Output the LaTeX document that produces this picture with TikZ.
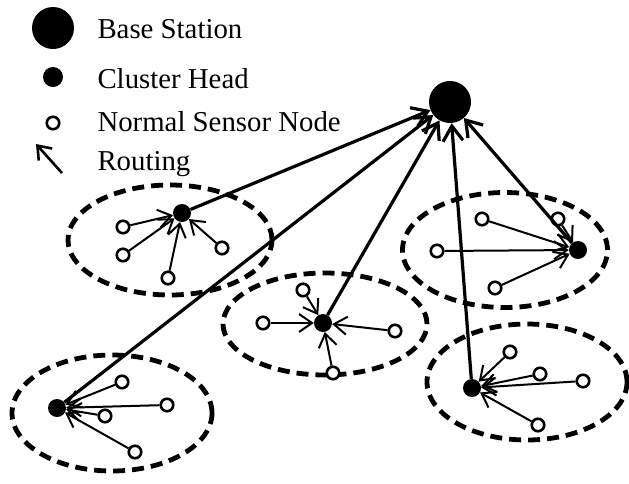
\documentclass[tikz,border=0pt]{standalone}
\usepackage{fontspec}
\setmainfont{Liberation Serif}
\usetikzlibrary{arrows.meta,shapes.geometric}

\begin{document}
\begin{tikzpicture}[x=1pt,y=-1pt,
  station/.style={circle, fill=black, inner sep=0pt, minimum size=42pt},
  head/.style={circle, fill=black, inner sep=0pt, minimum size=18pt},
  sensor/.style={circle, draw, line width=2.6pt, fill=white, inner sep=0pt, minimum size=12.5pt},
  cluster/.style={ellipse, draw, line width=4.8pt, dash pattern=on 12pt off 7pt, inner sep=0pt},
  link/.style={-{Straight Barb[length=13pt,width=18pt]}, line width=2pt},
  route/.style={-{Straight Barb[length=15pt,width=20pt]}, line width=3.2pt},
  legend/.style={anchor=base west, font=\fontsize{28.8}{32}\selectfont}]
\useasboundingbox (0,0) rectangle (629,483);

% legend
\node[station] (lgbs) at (53,28) {};
\node[head, minimum size=20pt] (lgch) at (53,77) {};
\node[sensor] (lgsn) at (53,123) {};
\coordinate (lgfrom) at (62,173);
\coordinate (lgto) at (36,144);
\draw[-{Straight Barb[length=12pt,width=18pt]}, line width=2.6pt] (lgfrom) -- (lgto);
\node[legend] (txbs) at (94,38) {Base Station};
\node[legend] (txch) at (94,88) {Cluster Head};
\node[legend] (txsn) at (94,131) {Normal Sensor Node};
\node[legend] (txrt) at (94,170) {Routing};

% clusters
\node[cluster, minimum width=204pt, minimum height=110pt] (zone1) at (170,240) {};
\node[cluster, minimum width=205pt, minimum height=115pt] (zone2) at (505,250) {};
\node[cluster, minimum width=204pt, minimum height=102pt] (zone3) at (325,324) {};
\node[cluster, minimum width=200pt, minimum height=116pt] (zone4) at (112,413) {};
\node[cluster, minimum width=200pt, minimum height=116pt] (zone5) at (527,382) {};

% base station and cluster heads
\node[station] (bs) at (450,102) {};
\node[head] (ch1) at (182,213) {};
\node[head] (ch2) at (578,250) {};
\node[head] (ch3) at (323,323) {};
\node[head] (ch4) at (57,408) {};
\node[head] (ch5) at (472,388) {};

% sensors
\node[sensor] (s11) at (123,227) {};
\node[sensor] (s12) at (123,255) {};
\node[sensor] (s13) at (168,278) {};
\node[sensor] (s14) at (222,248) {};

\node[sensor] (s21) at (482,219) {};
\node[sensor] (s22) at (558,219) {};
\node[sensor] (s23) at (437,251) {};
\node[sensor] (s24) at (495,288) {};

\node[sensor] (s31) at (303,290) {};
\node[sensor] (s32) at (263,323) {};
\node[sensor] (s33) at (395,331) {};
\node[sensor] (s34) at (333,373) {};

\node[sensor] (s41) at (122,382) {};
\node[sensor] (s42) at (167,405) {};
\node[sensor] (s43) at (105,416) {};
\node[sensor] (s44) at (135,452) {};

\node[sensor] (s51) at (510,352) {};
\node[sensor] (s52) at (540,374) {};
\node[sensor] (s53) at (583,381) {};
\node[sensor] (s54) at (538,425) {};

% sensor to head
\foreach \c in {1,...,5}
  \foreach \s in {1,...,4}
    \draw[link] (s\c\s) -- (ch\c);

% head to base station
\draw[route] (ch1) -- (bs);
\draw[route] (ch2) -- (bs);
\draw[route] (ch3) -- (bs);
\draw[route] (ch4) -- (bs);
\draw[route] (ch5) -- (bs);
\end{tikzpicture}
\end{document}
